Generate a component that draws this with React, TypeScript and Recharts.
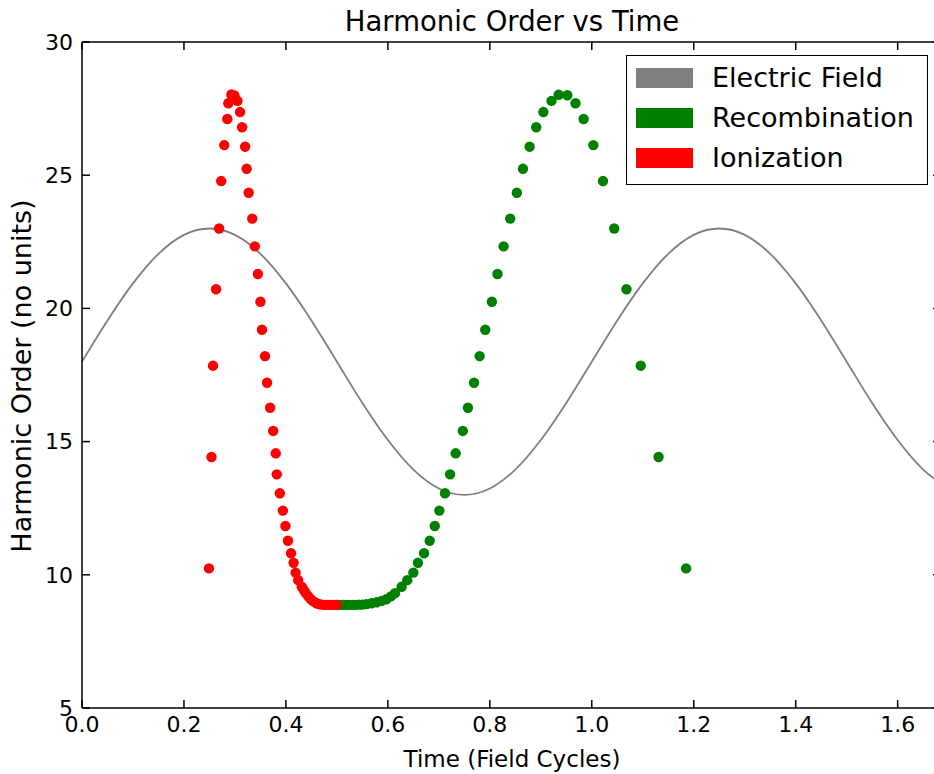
import {
  ComposedChart,
  Line,
  Scatter,
  XAxis,
  YAxis,
  Legend,
} from 'recharts'

// electric field trace, read every 0.05 cycles
const FIELD_T = [
  0, 0.05, 0.1, 0.15, 0.2, 0.25, 0.3, 0.35, 0.4, 0.45, 0.5, 0.55, 0.6, 0.65, 0.7, 0.75, 0.8,
  0.85, 0.9, 0.95, 1.0, 1.05, 1.1, 1.15, 1.2, 1.25, 1.3, 1.35, 1.4, 1.45, 1.5, 1.55, 1.6,
  1.65, 1.7,
]
const FIELD_V = [
  18, 19.55, 20.94, 22.05, 22.76, 23, 22.76, 22.05, 20.94, 19.55, 18, 16.45, 15.06, 13.95,
  13.24, 13, 13.24, 13.95, 15.06, 16.45, 18, 19.55, 20.94, 22.05, 22.76, 23, 22.76, 22.05,
  20.94, 19.55, 18, 16.45, 15.06, 13.95, 13.24,
]

// ionization times (red)
const ION_T = [
  0.249, 0.254, 0.257, 0.263, 0.269, 0.273, 0.279, 0.285, 0.287, 0.293, 0.299, 0.305, 0.31,
  0.314, 0.32, 0.323, 0.327, 0.334, 0.339, 0.345, 0.35, 0.353, 0.359, 0.363, 0.369, 0.375,
  0.38, 0.382, 0.388, 0.394, 0.399, 0.404, 0.41, 0.415, 0.419, 0.424, 0.431, 0.435, 0.439,
  0.444, 0.449, 0.454, 0.46, 0.465, 0.47, 0.475, 0.48, 0.485, 0.49, 0.495, 0.499,
]
const ION_V = [
  10.24, 14.42, 17.85, 20.72, 23.0, 24.78, 26.13, 27.11, 27.7, 28.03, 27.99, 27.79, 27.37,
  26.8, 26.07, 25.24, 24.34, 23.37, 22.33, 21.29, 20.25, 19.2, 18.21, 17.21, 16.27, 15.4,
  14.56, 13.77, 13.06, 12.41, 11.83, 11.28, 10.81, 10.45, 10.08, 9.8, 9.55, 9.43, 9.31,
  9.19, 9.08, 9.0, 8.93, 8.9, 8.88, 8.87, 8.87, 8.87, 8.87, 8.87, 8.87,
]

// recombination times (green)
const REC_T = [
  0.501, 0.507, 0.513, 0.519, 0.525, 0.531, 0.537, 0.543, 0.55, 0.558, 0.568, 0.578, 0.588,
  0.597, 0.606, 0.614, 0.627, 0.638, 0.65, 0.659, 0.671, 0.682, 0.692, 0.701, 0.712, 0.722,
  0.733, 0.747, 0.757, 0.769, 0.78, 0.791, 0.804, 0.815, 0.827, 0.84, 0.853, 0.865, 0.878,
  0.891, 0.905, 0.921, 0.935, 0.952, 0.968, 0.984, 1.003, 1.022, 1.044, 1.068, 1.096,
  1.131, 1.185,
]
const REC_V = [
  8.87, 8.87, 8.87, 8.87, 8.87, 8.87, 8.87, 8.88, 8.88, 8.9, 8.93, 8.97, 9.02, 9.08, 9.19,
  9.31, 9.55, 9.8, 10.08, 10.45, 10.81, 11.28, 11.83, 12.41, 13.06, 13.77, 14.56, 15.4,
  16.27, 17.21, 18.21, 19.2, 20.25, 21.29, 22.33, 23.37, 24.34, 25.24, 26.07, 26.8, 27.37,
  27.79, 28.02, 28.0, 27.7, 27.11, 26.13, 24.78, 23.0, 20.72, 17.85, 14.42, 10.24,
]

const X_TICKS = [0, 0.2, 0.4, 0.6, 0.8, 1.0, 1.2, 1.4, 1.6]
const Y_TICKS = [5, 10, 15, 20, 25, 30]

const LEGEND_ITEMS = [
  { label: 'Electric Field', color: '#808080' },
  { label: 'Recombination', color: '#008000' },
  { label: 'Ionization', color: '#ff0000' },
]

const FONT = "'DejaVu Sans', sans-serif"

const fieldData = FIELD_T.map((x, i) => ({ x, y: FIELD_V[i] }))
const ionData = ION_T.map((x, i) => ({ x, y: ION_V[i] }))
const recData = REC_T.map((x, i) => ({ x, y: REC_V[i] }))

const dot = (color: string) => (p: any) => <circle cx={p.cx} cy={p.cy} r={5.2} fill={color} />

function LegendBox() {
  return (
    <div
      style={{
        border: '1.5px solid #000',
        background: '#fff',
        width: 302,
        height: 130,
        boxSizing: 'border-box',
        fontFamily: FONT,
        paddingTop: 2,
      }}
    >
      {LEGEND_ITEMS.map(it => (
        <div key={it.label} style={{ display: 'flex', alignItems: 'center', height: 40 }}>
          <div style={{ width: 57, height: 20, background: it.color, marginLeft: 9 }} />
          <span style={{ fontSize: 27, marginLeft: 19, color: '#000', lineHeight: '40px' }}>
            {it.label}
          </span>
        </div>
      ))}
    </div>
  )
}

export default function App() {
  const axisProps = {
    stroke: '#000',
    strokeWidth: 1.5,
    tickSize: -8,
    allowDataOverflow: true,
  }
  return (
    <div style={{ position: 'relative', width: 934, height: 774, overflow: 'hidden', fontFamily: FONT }}>
      <style>{'body{margin:0}'}</style>
      <ComposedChart width={950} height={774} margin={{ top: 41, right: 0, bottom: 0, left: 0 }}>
        <XAxis
          {...axisProps}
          xAxisId="b"
          type="number"
          dataKey="x"
          domain={[0, 1.685]}
          ticks={X_TICKS}
          tickFormatter={v => v.toFixed(1)}
          height={66}
          tickMargin={16}
          tick={{ fill: '#000', fontSize: 22, fontFamily: FONT }}
        />
        <XAxis
          {...axisProps}
          xAxisId="t"
          orientation="top"
          type="number"
          dataKey="x"
          domain={[0, 1.685]}
          ticks={X_TICKS}
          tickFormatter={() => ''}
          height={1}
        />
        <YAxis
          {...axisProps}
          yAxisId="l"
          type="number"
          domain={[5, 30]}
          ticks={Y_TICKS}
          width={82}
          tickMargin={17}
          tick={{ fill: '#000', fontSize: 22, fontFamily: FONT }}
        />
        <YAxis
          {...axisProps}
          yAxisId="r"
          orientation="right"
          type="number"
          domain={[5, 30]}
          ticks={Y_TICKS}
          tickFormatter={() => ''}
          width={9}
        />
        <Line
          xAxisId="b"
          yAxisId="l"
          data={fieldData}
          dataKey="y"
          type="monotone"
          stroke="#7f7f7f"
          strokeWidth={1.8}
          dot={false}
          isAnimationActive={false}
        />
        <Scatter
          xAxisId="b"
          yAxisId="l"
          data={recData}
          dataKey="y"
          shape={dot('#008000')}
          isAnimationActive={false}
        />
        <Scatter
          xAxisId="b"
          yAxisId="l"
          data={ionData}
          dataKey="y"
          shape={dot('#ff0000')}
          isAnimationActive={false}
        />
        <Legend
          layout="horizontal"
          verticalAlign="middle"
          align="center"
          content={() => <LegendBox />}
          wrapperStyle={{ position: 'absolute', left: 626, top: 55, width: 'auto', height: 'auto' }}
        />
      </ComposedChart>
      <svg
        width={934}
        height={774}
        style={{ position: 'absolute', left: 0, top: 0, pointerEvents: 'none' }}
      >
        <text x={512} y={31} textAnchor="middle" fontSize={27.5} fontFamily={FONT} fill="#000">
          Harmonic Order vs Time
        </text>
        <text
          x={0}
          y={0}
          transform="translate(31,376) rotate(-90)"
          textAnchor="middle"
          fontSize={27}
          fontFamily={FONT}
          fill="#000"
        >
          Harmonic Order (no units)
        </text>
        <text x={512} y={767} textAnchor="middle" fontSize={23} fontFamily={FONT} fill="#000">
          Time (Field Cycles)
        </text>
      </svg>
    </div>
  )
}
